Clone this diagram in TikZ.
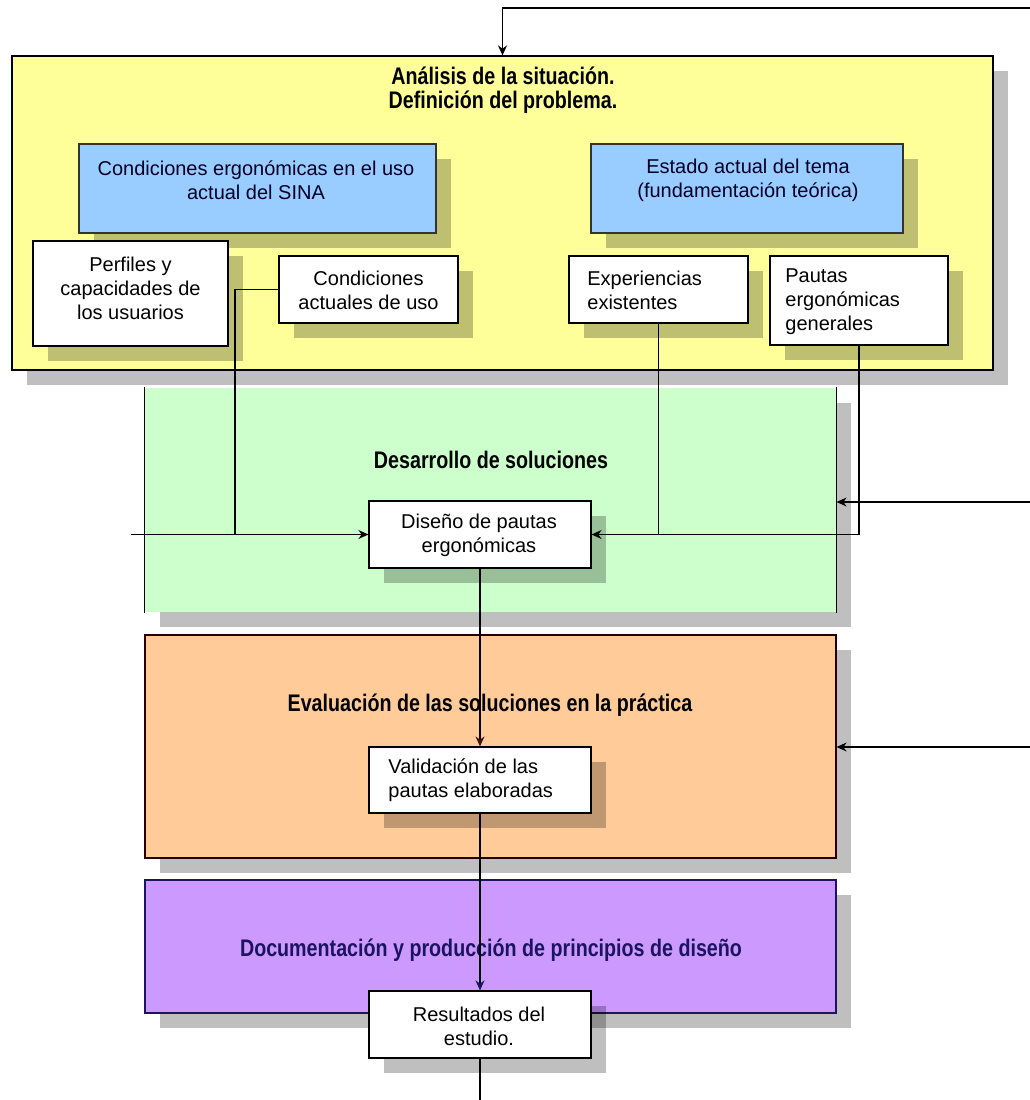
\documentclass[tikz,border=0pt]{standalone}
\usepackage{fontspec}
\setmainfont{Liberation Sans}
\newfontfamily\tfont[FakeStretch=0.82]{Liberation Sans}
\usetikzlibrary{fit,shadows,arrows.meta}
\definecolor{cYel}{HTML}{FFFF99}
\definecolor{cBlue}{HTML}{99CCFF}
\definecolor{cGreen}{HTML}{CCFFCC}
\definecolor{cOrange}{HTML}{FFCC99}
\definecolor{cPurple}{HTML}{CC99FF}
\definecolor{cNavy}{HTML}{1C1460}
\definecolor{cMaroon}{HTML}{4A1010}
\begin{document}
\begin{tikzpicture}[x=0.5pt,y=-0.5pt,
  every node/.style={font=\fontsize{10}{12}\selectfont},
  shad/.style={drop shadow={shadow xshift=7.5pt,shadow yshift=-7.5pt,fill=black,opacity=0.25}},
  frame/.style={inner sep=0pt, shad, line width=0.6pt},
  wbox/.style={frame, fill=white, draw=black},
  txt/.style={inner sep=0pt, align=center},
  ltxt/.style={inner sep=0pt, align=left, anchor=west},
  ttl/.style={inner sep=0pt, align=center, font=\tfont\bfseries\fontsize{12}{12}\selectfont},
  conn/.style={line width=0.6pt, draw=black},
  arr/.style={conn, -{Stealth[length=5pt,width=4.5pt]}}
]
\fill[white] (0,0) rectangle (1030,1100);
\useasboundingbox (0,0) rectangle (1030,1100);

% --- boxes ---
\node[frame, fit={(12,56) (993,370)}, fill=cYel, draw=black] (ana) {};
\node[frame, fit={(79,144) (436,233)}, fill=cBlue, draw=black!80] (cond) {};
\node[frame, fit={(591,144) (903,233)}, fill=cBlue, draw=black!80] (est) {};
\node[wbox, fit={(33,241) (228,346)}] (per) {};
\node[wbox, fit={(279,256) (458,323)}] (cau) {};
\node[wbox, fit={(569,256) (748,323)}] (exp) {};
\node[wbox, fit={(770,256) (948,345)}] (pau) {};

\node[frame, fit={(145,388) (836,612)}, fill=cGreen] (des) {};
\draw[conn] (des.north west) -- (des.south west);
\draw[conn] (des.north east) -- (des.south east);
\node[wbox, fit={(369,501) (591,568)}] (dis) {};

\node[frame, fit={(145,635) (836,858)}, fill=cOrange, draw=black!85!red] (eva) {};
\node[wbox, fit={(369,747) (591,813)}] (val) {};

\node[frame, fit={(145,880) (836,1013)}, fill=cPurple, draw=cNavy] (doc) {};
\node[wbox, fit={(369,991) (591,1058)}] (res) {};

% --- texts ---
\node[ttl] (tAna) at (503,90) {Análisis de la situación.\\Definición del problema.};
\node[txt, text=black!85!blue] (tCond) at (256,180) {Condiciones ergonómicas en el uso\\actual del SINA};
\node[txt, text=black!85!blue] (tEst) at (748,180) {Estado actual del tema\\(fundamentación teórica)};
\node[txt] (tPer) at (130.5,288) {Perfiles y\\capacidades de\\los usuarios};
\node[txt] (tCau) at (368.5,290) {Condiciones\\actuales de uso};
\node[ltxt] (tExp) at (587,290) {Experiencias\\existentes};
\node[ltxt] (tPau) at (785,302) {Pautas\\ergonómicas\\generales};
\node[ttl] (tDes) at (491,460) {Desarrollo de soluciones};
\node[txt] (tDis) at (479,535) {Diseño de pautas\\ergonómicas};
\node[ttl] (tEva) at (490,705) {Evaluación de las soluciones en la práctica};
\node[ltxt] (tVal) at (388,780) {Validación de las\\pautas elaboradas};
\node[ttl, text=cNavy] (tDoc) at (491,950) {Documentación y producción de principios de diseño};
\node[txt] (tRes) at (479,1026) {Resultados del\\estudio.};

% --- connectors ---
\coordinate (fbTop) at (1030,8);
\coordinate (fbDes) at (1030,502);
\coordinate (fbEva) at (1030,747);
\coordinate (inL) at (131,534.5);
\coordinate (jL) at (235,534.5);
\coordinate (outB) at (480,1100);

\draw[arr] (fbTop) -| (ana.north);
\draw[conn] (cau.west) -| (jL);
\draw[arr] (inL) -- (dis.west);
\draw[conn] (exp.south) -- (exp.south |- dis.east);
\draw[arr] (pau.south) |- (dis.east);
\draw[arr] (fbDes) -- (fbDes -| des.east);
\draw[arr] (fbEva) -- (fbEva -| eva.east);
\draw[conn, -{Stealth[length=5pt,width=4.5pt,color=cMaroon]}] (dis.south) -- (val.north);
\draw[conn, -{Stealth[length=5pt,width=4.5pt,color=cNavy]}] (val.south) -- (res.north);
\draw[conn] (res.south) -- (outB);
\end{tikzpicture}
\end{document}
